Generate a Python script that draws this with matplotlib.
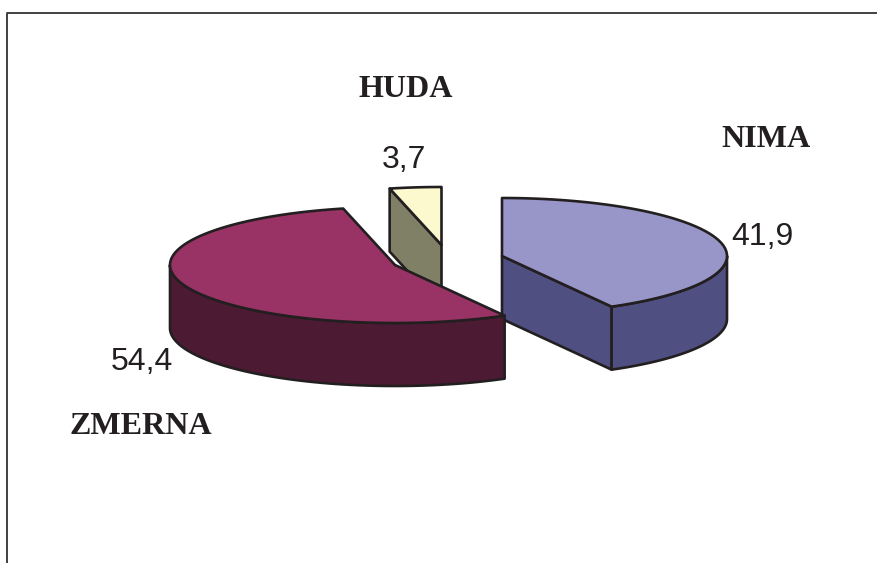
import numpy as np
import matplotlib
matplotlib.use("Agg")
import matplotlib.pyplot as plt
from matplotlib.patches import Polygon

# Survey shares, listed in the order the slices run clockwise from 12 o'clock
categories = ["NIMA", "ZMERNA", "HUDA"]
values = [41.9, 54.4, 3.7]

top_colors = ["#9896C8", "#993365", "#FDF9CF"]
side_colors = ["#4F4F82", "#4D1A33", "#808066"]
# Exploded slice apexes in pixel space
apex_x = [502, 395, 441.5]
apex_y = [256, 265, 245]
category_pos = [(721, 147), (70, 434), (359, 97)]
value_pos = [(731, 245), (111, 370), (382, 168)]

RX, RY, DEPTH = 225, 58, 63
INK = "#231F20"
LW = 1.9


def rim(cx, cy, a0, a1, n=120):
    """Points on the elliptical rim between two clockwise angles from the top."""
    t = np.radians(np.linspace(a0, a1, n))
    return np.column_stack([cx + RX * np.sin(t), cy - RY * np.cos(t)])


def add_face(ax, pts, color):
    ax.add_patch(Polygon(pts, closed=True, facecolor=color, edgecolor=INK,
                         linewidth=LW, joinstyle="round"))


fig = plt.figure(figsize=(8.78, 5.63), dpi=100)
ax = fig.add_axes([0, 0, 1, 1])
ax.set_xlim(0, 878)
ax.set_ylim(563, 0)
ax.axis("off")

# Chart frame: only the left and top edges are in view
ax.plot([7.5, 7.5, 878], [563, 12.5, 12.5], color="#333333", lw=1.3)

edges = np.concatenate([[0], np.cumsum(values)]) / np.sum(values) * 360
spans = {c: (edges[i], edges[i + 1]) for i, c in enumerate(categories)}


def draw_slice(name):
    i = categories.index(name)
    cx, cy = apex_x[i], apex_y[i]
    a0, a1 = spans[name]
    down = np.array([0, DEPTH])
    apex = np.array([cx, cy])

    # Radial wall on the cut face that points toward the viewer
    if name != "ZMERNA":
        cut = a1 if name == "NIMA" else a0
        p = rim(cx, cy, cut, cut, 1)[0]
        add_face(ax, [apex, p, p + down, apex + down], side_colors[i])

    # Outer wall for the part of the rim on the near side of the ellipse
    lo, hi = max(a0, 90), min(a1, 270)
    if hi > lo:
        arc = rim(cx, cy, lo, hi)
        add_face(ax, np.vstack([arc, (arc + down)[::-1]]), side_colors[i])

    # Top surface
    add_face(ax, np.vstack([apex, rim(cx, cy, a0, a1)]), top_colors[i])


# Back to front, so the large slice overlaps the other two
for name in ["NIMA", "HUDA", "ZMERNA"]:
    draw_slice(name)

for cat, (x, y) in zip(categories, category_pos):
    ax.text(x, y, cat, family="Liberation Serif", weight="bold", fontsize=23.1,
            color=INK, ha="left", va="baseline")
for v, (x, y) in zip(values, value_pos):
    ax.text(x, y, f"{v:.1f}".replace(".", ","), family="Liberation Sans",
            fontsize=23, color=INK, ha="left", va="baseline")

fig.savefig("out.png", dpi=100, facecolor="white")
